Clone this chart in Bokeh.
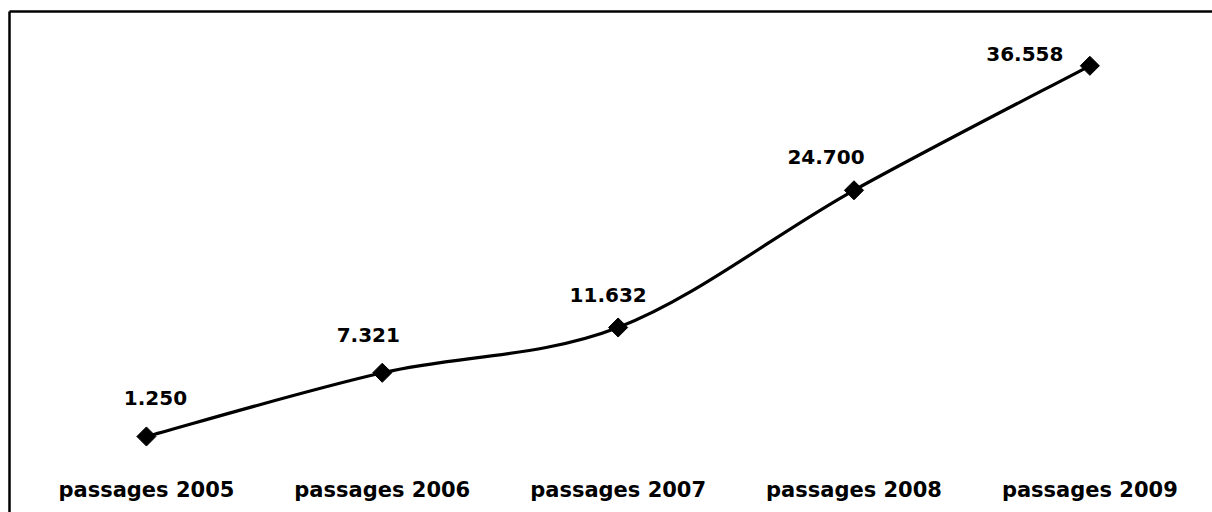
import numpy as np
from bokeh.plotting import figure
from bokeh.models import Range1d, LinearAxis, FixedTicker, ColumnDataSource
from bokeh.embed import file_html
from bokeh.resources import INLINE
from bokeh.core.properties import value

# ---- data ----
categories = ["passages 2005", "passages 2006", "passages 2007", "passages 2008", "passages 2009"]
values = [1.250, 7.321, 11.632, 24.700, 36.558]
value_labels = ["1.250", "7.321", "11.632", "24.700", "36.558"]

# ---- style: label offsets in screen pixels ----
label_dx = [9, -14, -10, -28, -65]
label_dy = [-38, -38, -32, -33, -12]

n = len(categories)
xs = np.arange(n, dtype=float)
ys = np.array(values, dtype=float)

p = figure(width=1212, height=512, output_backend="svg", toolbar_location=None,
           x_range=Range1d(-0.5805, 4.520), y_range=Range1d(-5.99, 41.73),
           x_axis_location=None, y_axis_location=None,
           min_border_left=9, min_border_top=11, min_border_right=0, min_border_bottom=0)
p.xgrid.visible = False
p.ygrid.visible = False
p.outline_line_color = None
p.background_fill_color = "white"
p.border_fill_color = "white"

for loc in ("left", "above"):
    ax = LinearAxis(ticker=FixedTicker(ticks=[]), axis_line_color="black", axis_line_width=2.5,
                    major_tick_line_color=None, minor_tick_line_color=None,
                    major_label_text_font_size="0px", major_tick_in=0, major_tick_out=0)
    p.add_layout(ax, loc)

# smoothed line (Catmull-Rom -> Bezier) through the data points
xp = np.concatenate([[xs[0]], xs, [xs[-1]]])
yp = np.concatenate([[ys[0]], ys, [ys[-1]]])
x0 = xs[:-1]; y0 = ys[:-1]; x1 = xs[1:]; y1 = ys[1:]
cx0 = x0 + (xp[2:n + 1] - xp[0:n - 1]) / 6.0
cy0 = y0 + (yp[2:n + 1] - yp[0:n - 1]) / 6.0
cx1 = x1 - (xp[3:n + 2] - xp[1:n]) / 6.0
cy1 = y1 - (yp[3:n + 2] - yp[1:n]) / 6.0
p.bezier(x0=x0, y0=y0, x1=x1, y1=y1, cx0=cx0, cy0=cy0, cx1=cx1, cy1=cy1,
         line_color="black", line_width=3.2)

p.scatter(xs, ys, marker="square", angle=np.pi / 4, size=13.5, fill_color="black", line_color="black")

src = ColumnDataSource(dict(x=xs, y=ys, text=value_labels, dx=label_dx, dy=label_dy))
p.text(x="x", y="y", text="text", x_offset="dx", y_offset="dy", source=src,
       text_font=value("DejaVu Sans"), text_font_style="bold", text_font_size="20px",
       text_align="center", text_baseline="alphabetic", text_color="black")

csrc = ColumnDataSource(dict(x=xs, y=[p.y_range.start] * n, text=categories))
p.text(x="x", y="y", text="text", y_offset=-23, source=csrc,
       text_font=value("DejaVu Sans"), text_font_style="bold", text_font_size="21px",
       text_align="center", text_baseline="alphabetic", text_color="black")

open("out.html", "w").write(file_html(p, INLINE))
